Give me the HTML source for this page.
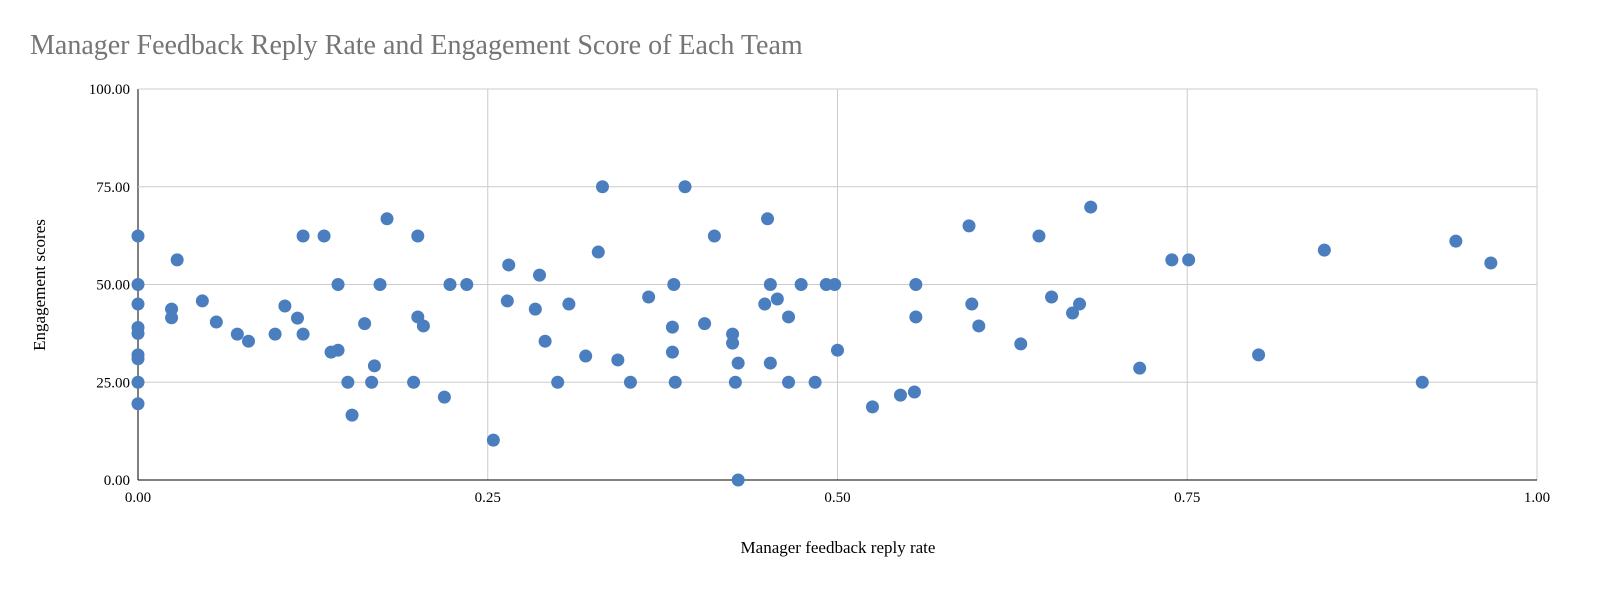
<!DOCTYPE html>
<html><head><meta charset="utf-8">
<style>
html,body{margin:0;padding:0;background:#fff;}
svg{display:block;font-family:"Liberation Serif",serif;}
</style></head>
<body>
<svg id="chart" width="1600" height="598">
<text x="30" y="54" font-size="28" fill="#757575">Manager Feedback Reply Rate and Engagement Score of Each Team</text>
<g id="grid"></g>
<g id="axes"></g>
<g id="points"></g>
<text x="838" y="553" font-size="17" text-anchor="middle" fill="#000">Manager feedback reply rate</text>
<text transform="translate(45,285) rotate(-90)" font-size="17" text-anchor="middle" fill="#000">Engagement scores</text>
</svg>
<script>
const xTicks = [0, 0.25, 0.5, 0.75, 1.0];
const yTicks = [0, 25, 50, 75, 100];
const replyRate = [0,0,0,0,0,0,0,0,0,.024,.024,.028,.046,.056,.071,.079,.098,.105,.114,.118,.118,.133,.138,.143,.143,.150,.153,.162,.167,.169,.173,.178,.197,.200,.200,.204,.219,.223,.235,.254,.264,.265,.284,.287,.291,.300,.308,.320,.329,.332,.343,.352,.365,.382,.382,.383,.384,.391,.405,.412,.425,.425,.427,.429,.429,.448,.450,.452,.452,.457,.465,.465,.474,.484,.492,.498,.500,.525,.545,.555,.556,.556,.594,.596,.601,.631,.644,.653,.668,.673,.681,.716,.739,.751,.801,.848,.918,.942,.967];
const engagement = [62.4,50,45,39,37.5,32,31,25,19.5,43.7,41.5,56.3,45.8,40.4,37.3,35.5,37.3,44.5,41.4,62.4,37.3,62.4,32.7,33.2,50,25,16.6,40,25,29.2,50,66.8,25,62.4,41.7,39.4,21.2,50,50,10.2,45.8,55,43.7,52.4,35.5,25,45,31.7,58.3,75,30.7,25,46.8,32.7,39.1,50,25,75,40,62.4,37.3,35,25,0,29.9,45,66.8,50,29.9,46.3,41.7,25,50,25,50,50,33.2,18.7,21.7,22.5,50,41.7,65,45,39.4,34.8,62.4,46.8,42.7,45,69.8,28.6,56.3,56.3,32,58.8,25,61.1,55.5];

const X0=138,X1=1537,Y0=480,Y1=89;
const xs=v=>X0+(X1-X0)*v;
const ys=v=>Y0-(Y0-Y1)*v/100;
const NS="http://www.w3.org/2000/svg";
const grid=document.getElementById('grid'),axes=document.getElementById('axes'),pts=document.getElementById('points');
function mk(tag,attrs,parent){const e=document.createElementNS(NS,tag);for(const k in attrs)e.setAttribute(k,attrs[k]);parent.appendChild(e);return e;}
xTicks.forEach(t=>{
  const l=mk('line',{x1:xs(t),x2:xs(t),y1:Y1,y2:Y0,stroke:t===0?'#000':'#cccccc','stroke-width':1},grid);
  
  
  const tx=mk('text',{x:xs(t),y:Y0+22,'font-size':15,'text-anchor':'middle',fill:'#000'},axes);
  tx.textContent=t.toFixed(2);
  
  
});
yTicks.forEach(t=>{
  const l=mk('line',{x1:X0,x2:X1,y1:ys(t),y2:ys(t),stroke:t===0?'#000':'#cccccc','stroke-width':1},grid);
  
  
  const tx=mk('text',{x:X0-8,y:ys(t)+5,'font-size':15,'text-anchor':'end',fill:'#000'},axes);
  tx.textContent=t.toFixed(2);
  
  
});
replyRate.forEach((r,i)=>{
  const c=mk('circle',{cx:xs(r),cy:ys(engagement[i]),r:6.5,fill:'#4a7ebf'},pts);
  
  
});
</script>
</body></html>
